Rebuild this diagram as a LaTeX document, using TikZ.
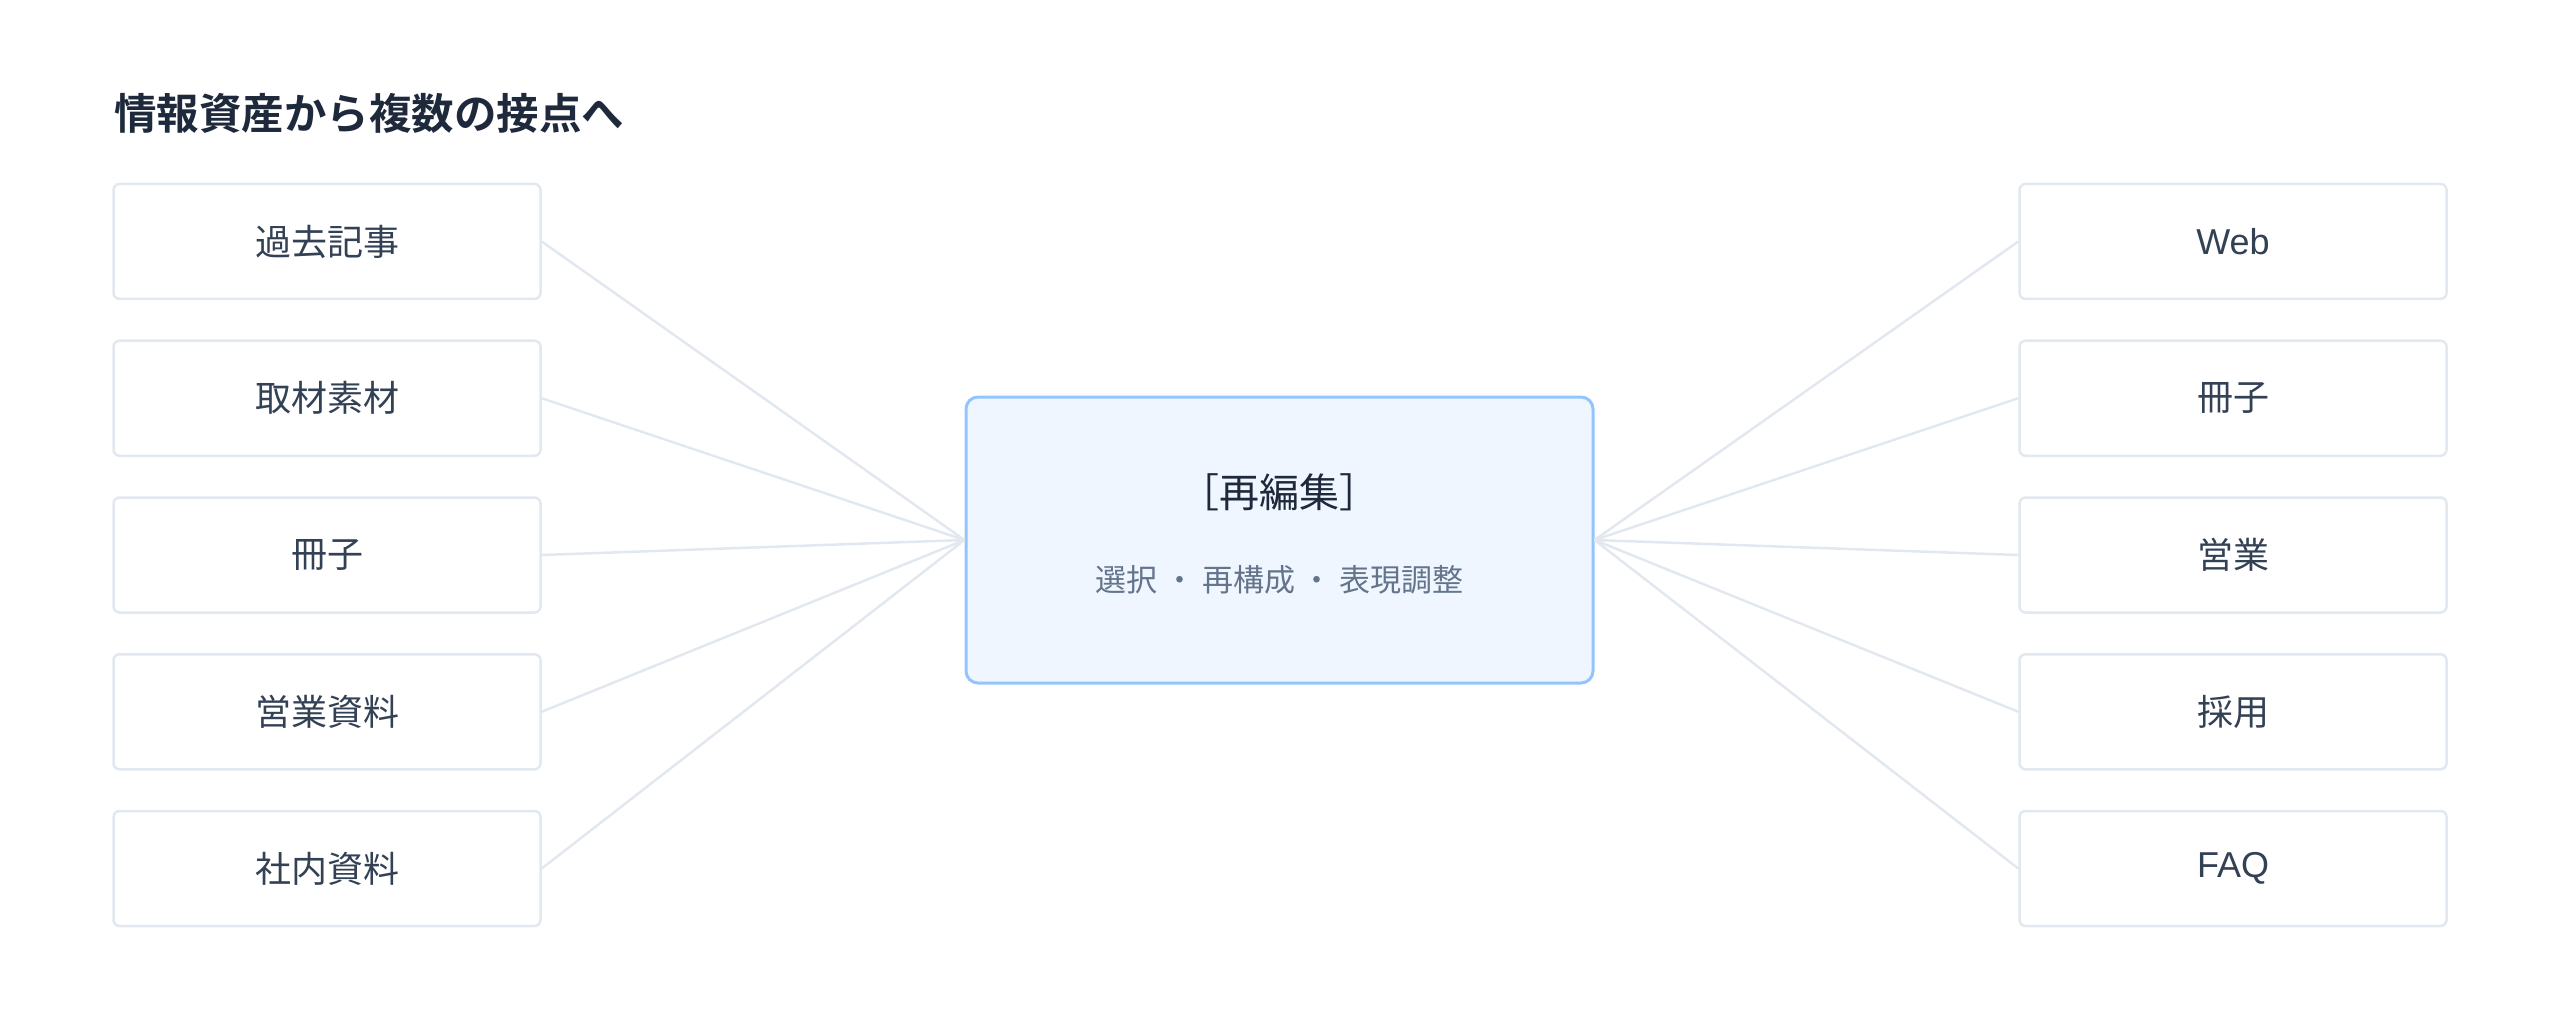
\documentclass[tikz,border=0pt]{standalone}
\usepackage{fontspec}
\newfontfamily\jp{Noto Sans CJK JP}[BoldFont={Noto Sans CJK JP Bold}]
\newfontfamily\jphalt{Noto Sans CJK JP}[RawFeature=+halt]
\newfontfamily\lat{Liberation Sans}
\definecolor{cText}{HTML}{334155}
\definecolor{cTitle}{HTML}{1E293B}
\definecolor{cSub}{HTML}{64748B}
\definecolor{cBorder}{HTML}{E2E8F0}
\definecolor{cLine}{HTML}{E2E8F0}
\definecolor{cBlue}{HTML}{93C5FD}
\definecolor{cFill}{HTML}{EFF6FF}
\tikzset{
  itembox/.style={draw=cBorder, line width=2.5pt, rounded corners=6pt, fill=white,
    minimum width=427pt, minimum height=115pt, inner sep=0pt, text=cText,
    font=\jp\fontsize{36pt}{40pt}\selectfont},
  latbox/.style={itembox, font=\lat\fontsize{36pt}{40pt}\selectfont},
  hubbox/.style={draw=cBlue, line width=3pt, rounded corners=12pt, fill=cFill,
    minimum width=627pt, minimum height=286pt, inner sep=0pt},
  hubtitle/.style={inner sep=0pt, text=cTitle, font=\jphalt\fontsize{40pt}{44pt}\selectfont},
  hubsub/.style={inner sep=0pt, text=cSub, font=\jp\fontsize{31pt}{36pt}\selectfont},
  heading/.style={inner sep=0pt, anchor=west, text=cTitle, font=\jp\bfseries\fontsize{42.5pt}{46pt}\selectfont},
  link/.style={draw=cLine, line width=2.5pt}
}
\begin{document}
\begin{tikzpicture}[x=1pt,y=-1pt]
\useasboundingbox (0,0) rectangle (2560,1024);
\node[heading] (title) at (114,113.5) {情報資産から複数の接点へ};
% left column
\node[itembox] (l1) at (327,241.5) {過去記事};
\node[itembox] (l2) at (327,398.25) {取材素材};
\node[itembox] (l3) at (327,555) {冊子};
\node[itembox] (l4) at (327,711.75) {営業資料};
\node[itembox] (l5) at (327,868.5) {社内資料};
% right column
\node[latbox] (r1) at (2233,241.5) {Web};
\node[itembox] (r2) at (2233,398.25) {冊子};
\node[itembox] (r3) at (2233,555) {営業};
\node[itembox] (r4) at (2233,711.75) {採用};
\node[latbox] (r5) at (2233,868.5) {FAQ};
% hub
\node[hubbox] (hub) at (1279.5,540) {};
\node[hubtitle] (hubt) at (1279.5,492) {［再編集］};
\node[hubsub] (hubs) at (1279.5,580) {選択 ・ 再構成 ・ 表現調整};
% links
\foreach \n in {l1,l2,l3,l4,l5} \draw[link] (\n.east) -- (hub.west);
\foreach \n in {r1,r2,r3,r4,r5} \draw[link] (hub.east) -- (\n.west);
\end{tikzpicture}
\end{document}
